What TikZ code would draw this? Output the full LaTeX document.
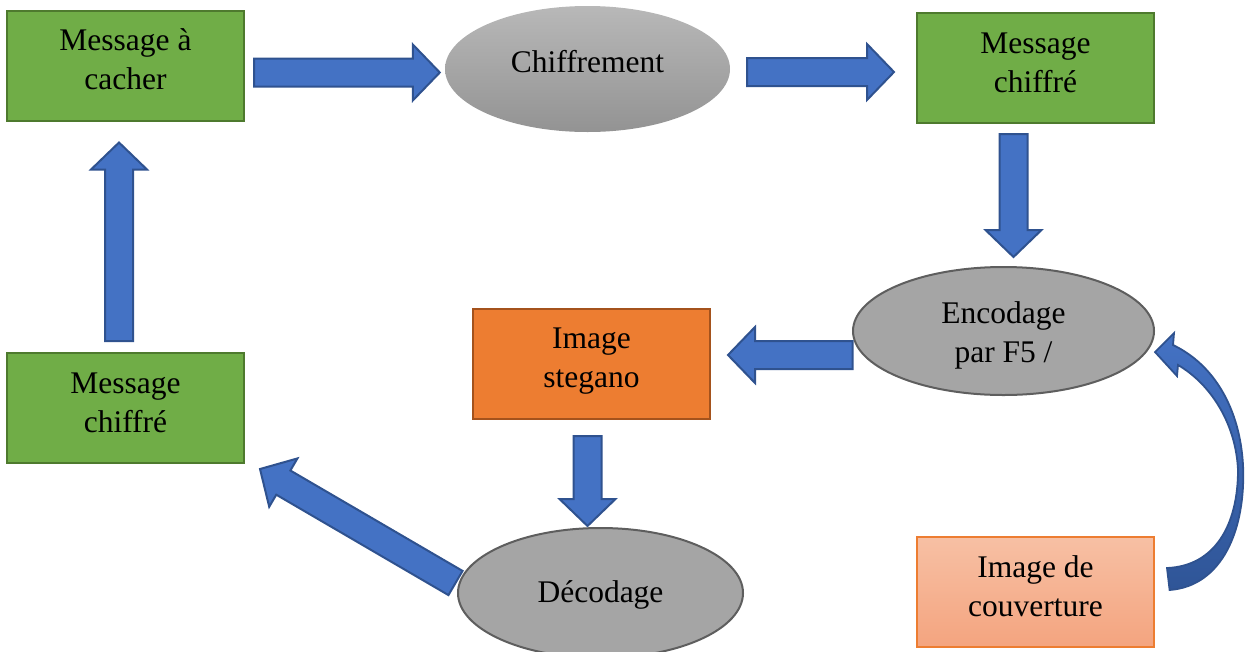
\documentclass[tikz,border=0pt]{standalone}
\usepackage{fontspec}
\setmainfont{Liberation Serif}
\usetikzlibrary{shapes.geometric,calc}

\definecolor{boxgreen}{HTML}{70AD47}
\definecolor{boxgreenline}{HTML}{4E7A2E}
\definecolor{steorange}{HTML}{ED7D31}
\definecolor{steorangeline}{HTML}{A4521C}
\definecolor{covtop}{HTML}{F7C0A4}
\definecolor{covbot}{HTML}{F4A47F}
\definecolor{covline}{HTML}{ED7D31}
\definecolor{procgray}{HTML}{A5A5A5}
\definecolor{procline}{HTML}{5E5E5E}
\definecolor{chiftop}{HTML}{B8B8B8}
\definecolor{chifbot}{HTML}{939393}
\definecolor{arrfill}{HTML}{4472C4}
\definecolor{arrline}{HTML}{2F528F}
\definecolor{arrdark}{HTML}{2F5597}

% line strut: 39pt tall, depth given by the optional argument
\newcommand\ls[1][15]{\rule[-#1pt]{0pt}{39pt}}

% block arrow from coordinate #1 to coordinate #2
\newcommand\blockarrow[2]{%
  \coordinate (ba-head) at ($(#2)!27pt!(#1)$);
  \draw[blockarr] ($(#1)!14pt!90:(#2)$) -- ($(ba-head)!14pt!90:(#2)$)
    -- ($(ba-head)!28pt!90:(#2)$) -- (#2) -- ($(ba-head)!28pt!-90:(#2)$)
    -- ($(ba-head)!14pt!-90:(#2)$) -- ($(#1)!14pt!-90:(#2)$) -- cycle;}

\begin{document}
\begin{tikzpicture}[x=1pt,y=-1pt,
  txt/.style={font=\fontsize{31.5}{39}\selectfont, align=center, text=black},
  stepbox/.style={txt, rectangle, minimum width=237pt, minimum height=110pt,
    inner sep=0pt, line width=2pt},
  msgbox/.style={stepbox, fill=boxgreen, draw=boxgreenline},
  stegbox/.style={stepbox, fill=steorange, draw=steorangeline},
  covbox/.style={stepbox, top color=covtop, bottom color=covbot, draw=covline, line width=1.2pt},
  proc/.style={txt, ellipse, inner sep=0pt, fill=procgray, draw=procline, line width=2pt},
  blockarr/.style={fill=arrfill, draw=arrline, line width=2pt, line join=miter},
  curvearr/.style={top color=arrfill, bottom color=arrdark, draw=arrline, line width=1.8pt, line join=miter}]

\useasboundingbox (0,0) rectangle (1246,651);
\clip (0,0) rectangle (1246,651);

% boxes and processes
\node[msgbox] (m1) at (125.5,65.5) {\ls Message à\\\ls cacher};
\node[txt, ellipse, inner sep=0pt, minimum width=285pt, minimum height=126pt,
  top color=chiftop, bottom color=chifbot, text height=24pt, text depth=18pt]
  (chif) at (587.5,69) {Chiffrement};
\node[msgbox] (m2) at (1035.5,68) {\ls Message\\\ls chiffré};
\node[proc, minimum width=301pt, minimum height=128pt] (enc) at (1003.5,331)
  {\ls[8]Encodage\\\ls[8]par F5 /};
\node[stegbox] (steg) at (591.5,363.5) {\ls Image\\\ls stegano};
\node[proc, minimum width=285pt, minimum height=130pt, text height=24pt, text depth=6pt]
  (dec) at (600.5,593) {Décodage};
\node[msgbox] (m3) at (125.5,408) {\ls Message\\\ls chiffré};
\node[covbox] (cov) at (1035.5,592) {\ls Image de\\\ls couverture};

% arrow ends
\coordinate (a1s) at ($(m1.east)+(9,7)$);
\coordinate (a1e) at ($(chif.west)+(-5,3.5)$);
\coordinate (a2s) at ($(chif.east)+(17,3)$);
\coordinate (a2e) at ($(m2.west)+(-22,4)$);
\coordinate (a3s) at ($(m2.south)+(-22,10)$);
\coordinate (a3e) at ($(enc.north)+(10,-9)$);
\coordinate (a4s) at ($(enc.west)+(0.5,24)$);
\coordinate (a4e) at ($(steg.east)+(17,-8.5)$);
\coordinate (a5s) at ($(steg.south)+(-4,16.5)$);
\coordinate (a5e) at ($(dec.north)+(-13,-1)$);
\coordinate (a6s) at ($(m3.north)+(-6.5,-11)$);
\coordinate (a6e) at ($(m1.south)+(-6.5,21)$);
\coordinate (a7s) at ($(dec.west)+(-1.5,-10)$);
\coordinate (a7e) at ($(m3.south east)+(15,5)$);

\blockarrow{a1s}{a1e}
\blockarrow{a2s}{a2e}
\blockarrow{a3s}{a3e}
\blockarrow{a4s}{a4e}
\blockarrow{a5s}{a5e}
\blockarrow{a6s}{a6e}
\blockarrow{a7s}{a7e}

% curved arrow from the cover image to the encoder
\coordinate (ctail) at ($(cov.east)+(15,-2)$);
\coordinate (ctip) at ($(enc.east)+(0,21)$);
\draw[curvearr] (ctail) .. controls (1222,586) and (1246,530) .. (1243,465)
  .. controls (1240,410) and (1215,365) .. (1173,345) -- (1174,333) -- (ctip)
  -- (1177,376) -- (1178,365) .. controls (1212,385) and (1236,425) .. (1238,470)
  .. controls (1238,525) and (1215,566) .. (1167,568) -- cycle;
\end{tikzpicture}
\end{document}
